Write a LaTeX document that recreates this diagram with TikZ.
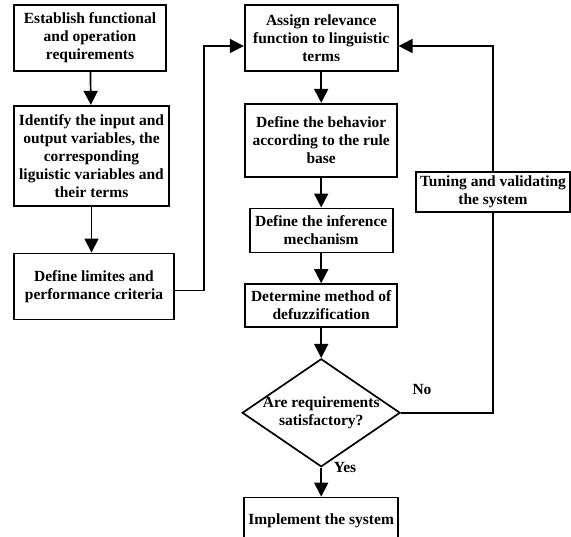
\documentclass[tikz,border=0pt]{standalone}
\usepackage{fontspec}
\setmainfont{Liberation Serif}
\usepackage{tikz}
\usetikzlibrary{shapes.geometric, arrows.meta, positioning}

\begin{document}
\begin{tikzpicture}[
  x=1pt, y=-1pt,
  font=\fontsize{15.5}{18}\selectfont\bfseries,
  box/.style={draw, line width=1.7pt, align=center, inner sep=2pt},
  decide/.style={draw, diamond, aspect=1.46, line width=1.7pt, align=center, inner sep=-2pt},
  arrow/.style={-{Triangle[length=14pt, width=14pt]}, line width=1.7pt},
  link/.style={line width=1.7pt}
]
\useasboundingbox (0,0) rectangle (571,537);
% left column
\node[box, minimum width=152pt, minimum height=66pt] (est) at (90,38) {Establish functional\\and operation\\requirements};
\node[box, minimum width=155pt, minimum height=100pt, below=33pt of est.south west, anchor=north west] (ident) {Identify the input and\\output variables, the\\corresponding\\liguistic variables and\\their terms};
\node[box, minimum width=160pt, minimum height=66pt, below=46pt of ident.south west, anchor=north west] (lim) {Define limites and\\performance criteria};
% middle column
\node[box, minimum width=153pt, minimum height=66pt, right=77pt of est] (assign) {Assign relevance\\function to linguistic\\terms};
\node[box, minimum width=152pt, minimum height=73pt, below=31pt of assign] (behav) {Define the behavior\\according to the rule\\base};
\node[box, minimum width=143pt, minimum height=44pt, below=30pt of behav] (infer) {Define the inference\\mechanism};
\node[box, minimum width=152pt, minimum height=43pt, below=30pt of infer] (defuzz) {Determine method of\\defuzzification};
\node[decide, minimum width=158pt, minimum height=108pt, below=30pt of defuzz] (sat) {Are requirements\\satisfactory?};
\node[box, minimum width=154pt, minimum height=46pt, below=29pt of sat] (impl) {Implement the system};
% feedback
\node[box, minimum width=154pt, minimum height=40pt] (tune) at (493,192) {Tuning and validating\\the system};
\node (no) at (422,390) {No};
\node (yes) at (345,468) {Yes};
\coordinate (bend) at (204,46);
\coordinate (loop) at (tune.north |- bend);

\draw[arrow] (est) -- (ident);
\draw[arrow] (ident.south) -- (ident.south |- lim.north);
\draw[arrow] ([yshift=-4pt]lim.east) -| (bend) -- (bend -| assign.west);
\draw[arrow] (assign) -- (behav);
\draw[arrow] (behav) -- (infer);
\draw[arrow] (infer) -- (defuzz);
\draw[arrow] (defuzz) -- (sat);
\draw[arrow] (sat) -- (impl);
\draw[link] (sat.east) -| (tune.south);
\draw[arrow] (tune.north) -- (loop) -- (loop -| assign.east);
\end{tikzpicture}
\end{document}
